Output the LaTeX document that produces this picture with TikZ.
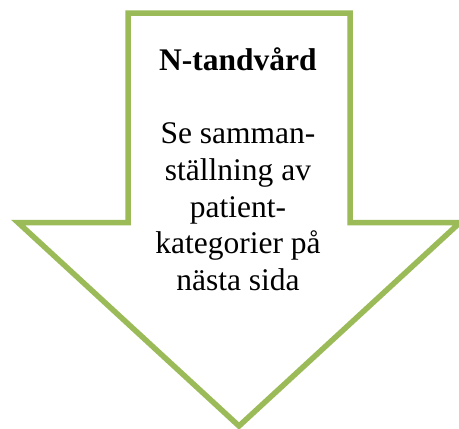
\documentclass[tikz,border=0pt]{standalone}
\usepackage{fontspec}
\setmainfont{Liberation Serif}
\definecolor{arrowgreen}{HTML}{9BBB59}
\begin{document}
\begin{tikzpicture}[x=1pt, y=-1pt,
    outline/.style={draw=arrowgreen, line width=5.5pt, fill=white, line join=miter},
    label/.style={font=\fontsize{31.5}{36.7}\selectfont, align=center, inner sep=0pt}]
  \useasboundingbox (0,0) rectangle (459,429);
  \clip (0,0) rectangle (459,429);

  % the big arrow pointing down
  \draw[outline] (128,13) -- (350,13) -- (350,222.5) -- (460,222.5)
    -- (239,426) -- (18,222.5) -- (128,222.5) -- cycle;

  \node[label, anchor=base] (title) at (238,70.7) {\textbf{N-tandvård}};
  \node[label, anchor=north] (body) at (238,122.7) {Se samman-\\ställning av\\patient-\\kategorier på\\nästa sida};
\end{tikzpicture}
\end{document}
